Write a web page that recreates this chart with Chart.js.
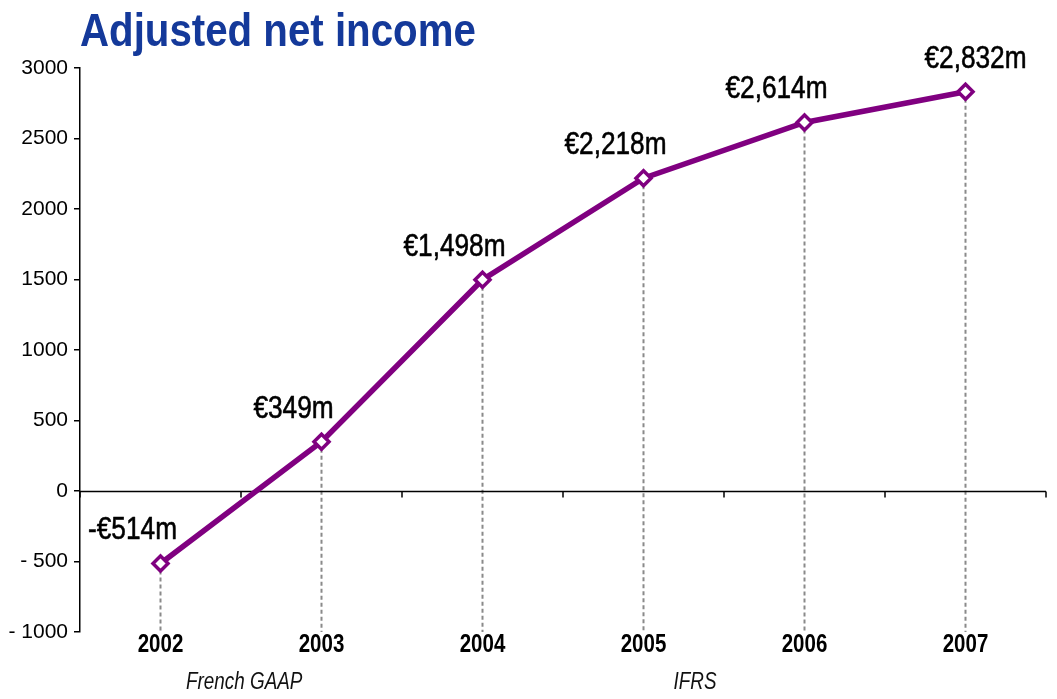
<!DOCTYPE html>
<html>
<head>
<meta charset="utf-8">
<script src="https://cdn.jsdelivr.net/npm/chart.js@4.4.1/dist/chart.umd.min.js"></script>
<style>
  html, body { margin: 0; padding: 0; background: #fff; }
  #wrap { width: 1057px; height: 699px; position: relative; }
</style>
</head>
<body>
<div id="wrap"><canvas id="incomeChart" width="1057" height="699"></canvas></div>
<script>
/* ==================
   ADJUSTED NET INCOME
   ================== */
const years = ['2002', '2003', '2004', '2005', '2006', '2007'];
const netIncome = [-514, 349, 1498, 2218, 2614, 2832];
const valueLabels = ['-€514m', '€349m', '€1,498m', '€2,218m', '€2,614m', '€2,832m'];
const yTicks = [3000, 2500, 2000, 1500, 1000, 500, 0, -500, -1000];

const SANS = '"Liberation Sans", Arial, sans-serif';
const PURPLE = '#800080';

function fmtTick(v) {
    return v < 0 ? '- ' + Math.abs(v) : String(v);
}

// no narrow font installed: squeeze Liberation Sans horizontally
function drawNarrow(ctx, text, x, y, font, squeeze, align, thicken) {
    ctx.save();
    ctx.font = font;
    ctx.textBaseline = 'middle';
    ctx.textAlign = align || 'center';
    ctx.translate(x, y);
    ctx.scale(squeeze, 1);
    ctx.fillText(text, 0, 0);
    if (thicken) {
        ctx.strokeStyle = ctx.fillStyle;
        ctx.lineWidth = thicken;
        ctx.lineJoin = 'round';
        ctx.strokeText(text, 0, 0);
    }
    ctx.restore();
}

// title, zero axis line, drop lines, value labels, GAAP notes
const decorPlugin = {
    id: 'decor',
    beforeDatasetsDraw(chart) {
        const ctx = chart.ctx;
        const area = chart.chartArea;
        const x = chart.scales.x, y = chart.scales.y;
        const meta = chart.getDatasetMeta(0);
        ctx.save();
        // dashed drop lines
        ctx.strokeStyle = '#8a8a8a';
        ctx.lineWidth = 2;
        ctx.setLineDash([4, 3]);
        meta.data.forEach(pt => {
            ctx.beginPath();
            ctx.moveTo(pt.x, pt.y);
            ctx.lineTo(pt.x, area.bottom);
            ctx.stroke();
        });
        ctx.setLineDash([]);
        // category axis crossing at zero
        const zy = Math.round(y.getPixelForValue(0)) + 0.5;
        ctx.strokeStyle = '#000';
        ctx.lineWidth = 1.5;
        ctx.beginPath();
        ctx.moveTo(area.left, zy);
        ctx.lineTo(area.right, zy);
        ctx.stroke();
        const step = (x.getPixelForValue(1) - x.getPixelForValue(0));
        for (let i = 0; i <= years.length; i++) {
            const tx = Math.round(x.getPixelForValue(0) - step / 2 + i * step);
            ctx.beginPath();
            ctx.moveTo(tx, zy);
            ctx.lineTo(tx, zy + 6);
            ctx.stroke();
        }
        ctx.restore();
    },
    afterDraw(chart) {
        const ctx = chart.ctx;
        const area = chart.chartArea;
        const x = chart.scales.x;
        const meta = chart.getDatasetMeta(0);
        ctx.save();
        // title
        ctx.fillStyle = '#14399a';
        drawNarrow(ctx, 'Adjusted net income', area.left, 33, 'bold 46px ' + SANS, 0.875, 'left');

        // category labels
        ctx.fillStyle = '#000';
        years.forEach((yr, i) => {
            drawNarrow(ctx, yr, x.getPixelForValue(i), 645, 'bold 25px ' + SANS, 0.82);
        });

        // value labels, up-left of the point (last one sits right, at the edge)
        meta.data.forEach((pt, i) => {
            const cx = i === meta.data.length - 1 ? pt.x + 10 : pt.x - 28;
            drawNarrow(ctx, valueLabels[i], cx, pt.y - 33, '32px ' + SANS, 0.82, 'center', 0.6);
        });

        // accounting standard notes
        const step = (x.getPixelForValue(1) - x.getPixelForValue(0));
        ctx.fillStyle = '#111';
        drawNarrow(ctx, 'French GAAP', x.getPixelForValue(0) + step * 0.52, 683, 'italic 23px ' + SANS, 0.82);
        drawNarrow(ctx, 'IFRS', x.getPixelForValue(3) + step * 0.32, 683, 'italic 23px ' + SANS, 0.82);
        ctx.restore();
    }
};

const ctx = document.getElementById('incomeChart').getContext('2d');
const myChart = new Chart(ctx, {
    type: 'line',
    data: {
        labels: years,
        datasets: [{
            label: 'Adjusted net income',
            data: netIncome,
            borderColor: PURPLE,
            borderWidth: 5.5,
            tension: 0,
            pointStyle: 'rectRot',
            pointRadius: 7.5,
            pointBorderWidth: 3.5,
            pointBackgroundColor: '#fff',
            pointBorderColor: PURPLE
        }]
    },
    options: {
        responsive: false,
        animation: false,
        layout: { padding: { top: 68, right: 8, left: 0, bottom: 0 } },
        plugins: { legend: { display: false }, tooltip: { enabled: false } },
        scales: {
            x: {
                type: 'category',
                offset: true,
                grid: { display: false },
                border: { display: false },
                ticks: { display: false },
                afterFit(scale) { scale.height = 67; }
            },
            y: {
                min: -1000,
                max: 3000,
                afterBuildTicks(scale) { scale.ticks = yTicks.map(v => ({ value: v })); },
                grid: { drawOnChartArea: false, drawTicks: true, tickLength: 6, color: '#000', lineWidth: 1.5 },
                border: { display: true, color: '#000', width: 1.5 },
                ticks: {
                    padding: 6,
                    color: '#000',
                    font: { family: SANS, size: 21 },
                    callback: v => fmtTick(v)
                },
                afterFit(scale) { scale.width = 80; }
            }
        }
    },
    plugins: [decorPlugin]
});
</script>
</body>
</html>
